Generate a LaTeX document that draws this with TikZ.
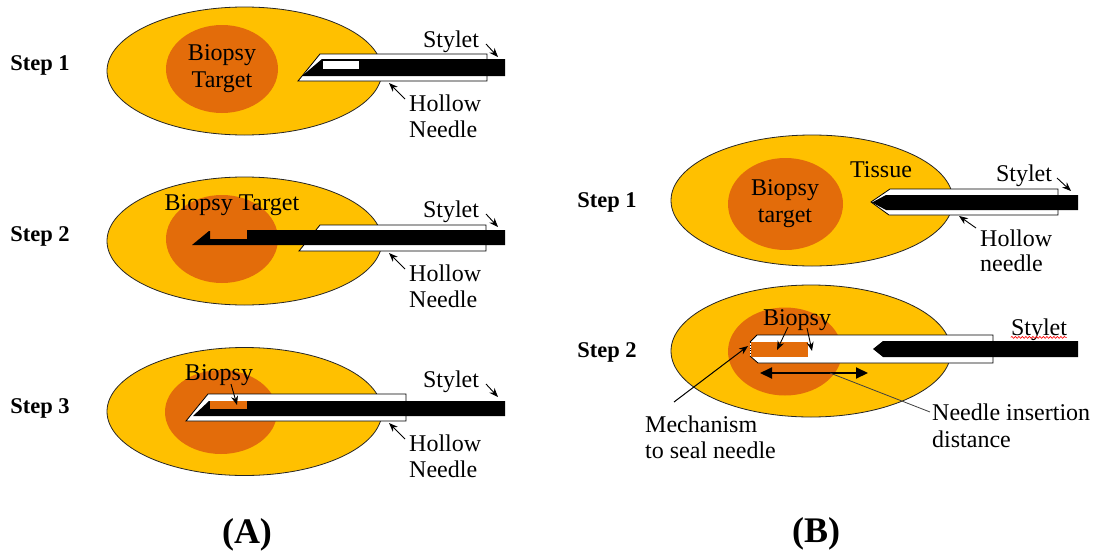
\documentclass[tikz,border=0pt]{standalone}
\usepackage{fontspec}
\setmainfont{Liberation Serif}
\usetikzlibrary{shapes.geometric,arrows.meta,decorations.pathmorphing}
\definecolor{tissuecol}{RGB}{255,192,0}
\definecolor{targetcol}{RGB}{227,108,10}
\begin{document}
\begin{tikzpicture}[x=1pt,y=-1pt,
  tissue/.style={ellipse,draw=black!85,line width=0.8pt,fill=tissuecol,inner sep=0},
  target/.style={ellipse,fill=targetcol,inner sep=0},
  needle/.style={draw=black,line width=0.8pt,fill=white},
  stylet/.style={fill=black},
  lbl/.style={font=\fontsize{24}{26}\selectfont,inner sep=0},
  steplbl/.style={font=\bfseries\fontsize{22.5}{24}\selectfont,inner sep=0},
  panellbl/.style={font=\bfseries\fontsize{36}{38}\selectfont,inner sep=0},
  ptr/.style={-{Stealth[length=9pt,width=7pt]},line width=0.9pt},
]
% canvas
\fill[white] (0,0) rectangle (1103,554);
\useasboundingbox (0,0) rectangle (1103,554);

%% ---------------- Panel A ----------------
% tissue and target
\node[tissue,minimum width=275pt,minimum height=128pt] (tA1) at (244.5,71) {};
\node[tissue,minimum width=275pt,minimum height=128pt] (tA2) at (244.5,241) {};
\node[tissue,minimum width=275pt,minimum height=128pt] (tA3) at (244.5,411.5) {};
\node[target,minimum width=112pt,minimum height=88pt] (gA1) at (222,69) {};
\node[target,minimum width=112pt,minimum height=88pt] (gA2) at (222,239) {};
\node[target,minimum width=112pt,minimum height=84pt] (gA3) at (221,412) {};

% step 1: needle outside the target, stylet with closed notch
\draw[needle] (298,81) -- (320,54) -- (487,54) -- (487,81) -- cycle;
\fill[stylet] (302,76) -- (322,59) -- (505,59) -- (505,76) -- cycle;
\fill[white] (323,61) rectangle (359,69);

% step 2: stylet advanced into the target, notch open
\draw[needle] (299,251) -- (320,225) -- (486,225) -- (486,251) -- cycle;
\fill[stylet] (192,245) -- (209,231) -- (210,231) -- (210,239) -- (247,239)
  -- (247,230) -- (505,230) -- (505,245) -- cycle;

% step 3: needle advanced over the stylet, sample held in notch
\draw[needle] (186,421) -- (208,394) -- (406,394) -- (406,421) -- cycle;
\fill[stylet] (193,416) -- (209,401) -- (505,401) -- (505,416) -- cycle;
\fill[targetcol] (210,401) rectangle (247,409);

% labels
\node[steplbl,anchor=base] (sA1) at (40,70) {Step 1};
\node[steplbl,anchor=base] (sA2) at (40,241) {Step 2};
\node[steplbl,anchor=base] (sA3) at (40,413) {Step 3};

\node[lbl,anchor=base] (bA1a) at (222,60) {Biopsy};
\node[lbl,anchor=base] (bA1b) at (222,87) {Target};
\node[lbl,anchor=base] (bA2) at (232,210) {Biopsy Target};
\node[lbl,anchor=base] (bA3) at (219,380) {Biopsy};

\node[lbl,anchor=base] (yA1) at (451,47) {Stylet};
\node[lbl,anchor=base] (yA2) at (451,217) {Stylet};
\node[lbl,anchor=base] (yA3) at (451,387) {Stylet};

\node[lbl,anchor=base west] (hA1a) at (409,111) {Hollow};
\node[lbl,anchor=base west] (hA1b) at (409,137) {Needle};
\node[lbl,anchor=base west] (hA2a) at (409,281) {Hollow};
\node[lbl,anchor=base west] (hA2b) at (409,307) {Needle};
\node[lbl,anchor=base west] (hA3a) at (409,451) {Hollow};
\node[lbl,anchor=base west] (hA3b) at (409,477) {Needle};

% pointers
\coordinate (pyA1s) at (486,44);  \coordinate (pyA1e) at (498,57);
\coordinate (pyA2s) at (486,214); \coordinate (pyA2e) at (498,227);
\coordinate (pyA3s) at (486,384); \coordinate (pyA3e) at (498,397);
\draw[ptr] (pyA1s) -- (pyA1e);
\draw[ptr] (pyA2s) -- (pyA2e);
\draw[ptr] (pyA3s) -- (pyA3e);
\coordinate (phA1s) at (405,99);  \coordinate (phA1e) at (389,83);
\coordinate (phA2s) at (405,269); \coordinate (phA2e) at (389,253);
\coordinate (phA3s) at (405,439); \coordinate (phA3e) at (389,423);
\draw[ptr] (phA1s) -- (phA1e);
\draw[ptr] (phA2s) -- (phA2e);
\draw[ptr] (phA3s) -- (phA3e);
\coordinate (pbA3s) at (231,384); \coordinate (pbA3e) at (237,405);
\draw[ptr] (pbA3s) -- (pbA3e);

\node[panellbl,anchor=base] (pA) at (247,543) {(A)};

%% ---------------- Panel B ----------------
\node[tissue,minimum width=282pt,minimum height=131pt] (tB1) at (812,200.5) {};
\node[tissue,minimum width=280pt,minimum height=132pt] (tB2) at (811,351) {};
\node[target,minimum width=115pt,minimum height=92pt] (gB1) at (785.5,204) {};
\node[target,minimum width=114pt,minimum height=88pt] (gB2) at (785,351.5) {};

% step 1: hollow needle with pointed stylet
\draw[needle] (871,202) -- (890,189) -- (1058,189) -- (1058,215) -- (889,215) -- cycle;
\fill[stylet] (872,202.5) -- (886,195) -- (1078,195) -- (1078,210) -- (886,210) -- cycle;

% step 2: needle advanced, sample held at the sealed tip
\draw[needle] (750,342) -- (757,335) -- (993,335) -- (993,363) -- (758,363) -- (750,356);
\fill[targetcol] (751,342) rectangle (808,357);
\fill[stylet] (873,349) -- (883,341) -- (1078,341) -- (1078,357) -- (883,357) -- cycle;
\draw[line width=0.8pt,dotted] (750,342) -- (750,357);

% labels
\node[steplbl,anchor=base] (sB1) at (607,207) {Step 1};
\node[steplbl,anchor=base] (sB2) at (607,357) {Step 2};

\node[lbl,anchor=base] (bB1a) at (785,195) {Biopsy};
\node[lbl,anchor=base] (bB1b) at (785,222) {target};
\node[lbl,anchor=base] (tis) at (881,177) {Tissue};
\node[lbl,anchor=base] (yB1) at (1024,181) {Stylet};
\node[lbl,anchor=base west] (hB1a) at (980,246) {Hollow};
\node[lbl,anchor=base west] (hB1b) at (980,271) {needle};

\node[lbl,anchor=base] (bB2) at (797,325) {Biopsy};
\node[lbl,anchor=base] (yB2) at (1039,335) {Stylet};
\draw[red,line width=0.6pt,decorate,decoration={snake,amplitude=1pt,segment length=3.5pt}]
  (yB2.south west) ++(0,-3) -- ++(56,0);
\node[lbl,anchor=base west] (nd1) at (932,420) {Needle insertion};
\node[lbl,anchor=base west] (nd2) at (932,447) {distance};
\node[lbl,anchor=base west] (mc1) at (645,432) {Mechanism};
\node[lbl,anchor=base west] (mc2) at (645,458) {to seal needle};

% pointers
\coordinate (pyB1s) at (1057,178); \coordinate (pyB1e) at (1071,191);
\draw[ptr] (pyB1s) -- (pyB1e);
\coordinate (phB1s) at (976,228); \coordinate (phB1e) at (959,216);
\draw[ptr] (phB1s) -- (phB1e);
\coordinate (pb1s) at (788,327); \coordinate (pb1e) at (777,350);
\coordinate (pb2s) at (807,328); \coordinate (pb2e) at (812,351);
\draw[ptr] (pb1s) -- (pb1e);
\draw[ptr] (pb2s) -- (pb2e);
\coordinate (pms) at (674,402); \coordinate (pme) at (748,346);
\draw[ptr,line width=1pt] (pms) -- (pme);

% insertion distance
\coordinate (da1) at (760,373); \coordinate (da2) at (868,373);
\draw[{Triangle[length=12pt,width=11pt]}-{Triangle[length=12pt,width=11pt]},line width=2pt] (da1) -- (da2);
\coordinate (dls) at (830,373); \coordinate (dle) at (930,412);
\draw[black!75,line width=0.8pt] (dls) -- (dle);

\node[panellbl,anchor=base] (pB) at (816,542) {(B)};
\end{tikzpicture}
\end{document}
